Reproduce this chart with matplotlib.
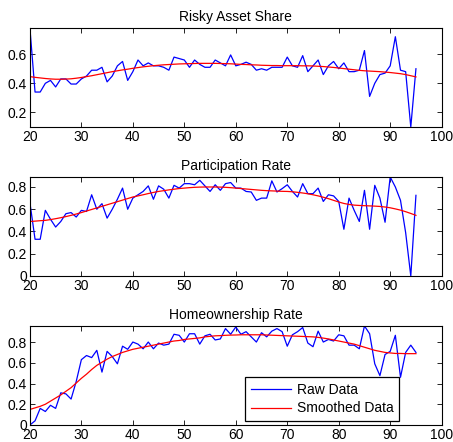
import numpy as np
import matplotlib.pyplot as plt
from matplotlib.ticker import FuncFormatter

plt.rcParams['font.family'] = ['Liberation Sans', 'DejaVu Sans']

ages = np.arange(20, 96)

risky_raw = [0.78, 0.34, 0.34, 0.40, 0.42, 0.375, 0.43, 0.43, 0.395, 0.395,
             0.43, 0.45, 0.49, 0.49, 0.51, 0.41, 0.45, 0.52, 0.55, 0.42,
             0.48, 0.56, 0.52, 0.54, 0.52, 0.52, 0.51, 0.49, 0.58, 0.57,
             0.56, 0.51, 0.56, 0.53, 0.51, 0.51, 0.56, 0.54, 0.52, 0.595,
             0.52, 0.53, 0.545, 0.53, 0.49, 0.50, 0.49, 0.51, 0.51, 0.51,
             0.58, 0.52, 0.51, 0.59, 0.48, 0.52, 0.56, 0.46, 0.52, 0.55,
             0.50, 0.54, 0.48, 0.48, 0.49, 0.625, 0.31, 0.40, 0.46, 0.47,
             0.52, 0.72, 0.49, 0.48, 0.10, 0.50]
risky_smooth = [0.446, 0.441, 0.437, 0.433, 0.430, 0.428, 0.428, 0.429, 0.431, 0.435,
                0.440, 0.446, 0.452, 0.459, 0.466, 0.473, 0.480, 0.486, 0.492, 0.497,
                0.503, 0.508, 0.513, 0.517, 0.521, 0.524, 0.527, 0.529, 0.531, 0.533,
                0.534, 0.535, 0.536, 0.537, 0.537, 0.537, 0.537, 0.536, 0.535, 0.534,
                0.532, 0.530, 0.529, 0.527, 0.526, 0.524, 0.523, 0.522, 0.522, 0.521,
                0.521, 0.521, 0.521, 0.520, 0.520, 0.519, 0.517, 0.515, 0.512, 0.509,
                0.505, 0.501, 0.497, 0.493, 0.489, 0.486, 0.484, 0.482, 0.480, 0.477,
                0.474, 0.470, 0.466, 0.460, 0.452, 0.444]

part_raw = [0.66, 0.33, 0.33, 0.59, 0.51, 0.44, 0.49, 0.56, 0.57, 0.53,
            0.59, 0.58, 0.73, 0.60, 0.65, 0.52, 0.60, 0.69, 0.79, 0.60,
            0.70, 0.73, 0.76, 0.81, 0.69, 0.81, 0.78, 0.70, 0.815, 0.79,
            0.83, 0.83, 0.82, 0.86, 0.81, 0.76, 0.82, 0.77, 0.83, 0.84,
            0.79, 0.79, 0.76, 0.755, 0.68, 0.70, 0.70, 0.855, 0.755, 0.785,
            0.82, 0.76, 0.71, 0.83, 0.74, 0.74, 0.79, 0.67, 0.73, 0.72,
            0.67, 0.42, 0.70, 0.59, 0.49, 0.77, 0.42, 0.815, 0.70, 0.483,
            0.89, 0.80, 0.68, 0.39, 0.0, 0.725]
part_smooth = [0.490, 0.493, 0.497, 0.500, 0.507, 0.515, 0.524, 0.534, 0.545, 0.557,
               0.570, 0.584, 0.598, 0.612, 0.626, 0.640, 0.654, 0.668, 0.682, 0.696,
               0.710, 0.720, 0.730, 0.741, 0.751, 0.760, 0.767, 0.774, 0.780, 0.786,
               0.790, 0.794, 0.797, 0.799, 0.800, 0.800, 0.800, 0.799, 0.797, 0.794,
               0.790, 0.786, 0.782, 0.778, 0.774, 0.770, 0.767, 0.765, 0.763, 0.761,
               0.760, 0.757, 0.752, 0.746, 0.739, 0.730, 0.720, 0.708, 0.695, 0.680,
               0.665, 0.652, 0.643, 0.637, 0.634, 0.632, 0.630, 0.628, 0.625, 0.620,
               0.613, 0.603, 0.592, 0.578, 0.562, 0.545]

home_raw = [0.0, 0.04, 0.16, 0.13, 0.19, 0.16, 0.31, 0.30, 0.25, 0.42,
            0.63, 0.67, 0.65, 0.72, 0.51, 0.71, 0.66, 0.59, 0.76, 0.73,
            0.80, 0.78, 0.735, 0.80, 0.735, 0.79, 0.77, 0.78, 0.875, 0.865,
            0.80, 0.88, 0.88, 0.78, 0.86, 0.875, 0.82, 0.83, 0.93, 0.875,
            0.945, 0.875, 0.90, 0.85, 0.80, 0.89, 0.85, 0.905, 0.93, 0.90,
            0.76, 0.87, 0.90, 0.94, 0.79, 0.755, 0.905, 0.80, 0.825, 0.81,
            0.87, 0.86, 0.77, 0.77, 0.735, 0.955, 0.88, 0.59, 0.476, 0.68,
            0.71, 0.865, 0.46, 0.70, 0.77, 0.70]
home_smooth = [0.150, 0.165, 0.180, 0.200, 0.230, 0.260, 0.290, 0.325, 0.360, 0.405,
               0.450, 0.490, 0.535, 0.575, 0.605, 0.635, 0.660, 0.680, 0.700, 0.715,
               0.730, 0.740, 0.750, 0.760, 0.770, 0.780, 0.790, 0.800, 0.810, 0.815,
               0.825, 0.830, 0.835, 0.840, 0.850, 0.855, 0.860, 0.862, 0.865, 0.867,
               0.868, 0.870, 0.870, 0.870, 0.870, 0.870, 0.868, 0.866, 0.864, 0.862,
               0.860, 0.858, 0.856, 0.854, 0.852, 0.850, 0.845, 0.838, 0.830, 0.820,
               0.810, 0.800, 0.790, 0.780, 0.765, 0.750, 0.735, 0.720, 0.710, 0.700,
               0.695, 0.690, 0.690, 0.688, 0.688, 0.688]

titles = ['Risky Asset Share', 'Participation Rate', 'Homeownership Rate']
raws = [risky_raw, part_raw, home_raw]
smooths = [risky_smooth, part_smooth, home_smooth]
yticks = [[0.2, 0.4, 0.6],
          [0, 0.2, 0.4, 0.6, 0.8],
          [0, 0.2, 0.4, 0.6, 0.8]]
xticks = [20, 30, 40, 50, 60, 70, 80, 90, 100]

fig = plt.figure(figsize=(4.53, 4.42), dpi=100)
bottoms = [0.7127, 0.3756, 0.0385]
fs = 10

for i in range(3):
    ax = fig.add_axes([0.066, bottoms[i], 0.909, 0.224])
    raw = np.array(raws[i])
    ax.plot(ages, raw, color='blue', lw=0.9, label='Raw Data')
    ax.plot(ages, smooths[i], color='red', lw=0.9, label='Smoothed Data')
    ax.set_xlim(20, 100)
    ax.set_ylim(raw.min(), raw.max())
    ax.set_xticks(xticks)
    ax.set_yticks(yticks[i])
    ax.yaxis.set_major_formatter(FuncFormatter(lambda v, p: '%g' % v))
    ax.tick_params(direction='in', top=True, right=True, length=3.5,
                   width=0.6, labelsize=fs, pad=2)
    ax.tick_params(axis='x', pad=2.5)
    for s in ax.spines.values():
        s.set_linewidth(0.8)
    ax.set_title(titles[i], fontsize=fs, pad=5)
    if i == 2:
        leg = ax.legend(loc='lower right', bbox_to_anchor=(0.896, 0.04),
                        borderaxespad=0, fontsize=fs, fancybox=False,
                        framealpha=1, edgecolor='black', handlelength=2.9,
                        borderpad=0.4, labelspacing=0.35, handletextpad=0.4)
        leg.get_frame().set_linewidth(0.9)

fig.savefig('out.png', dpi=100)
